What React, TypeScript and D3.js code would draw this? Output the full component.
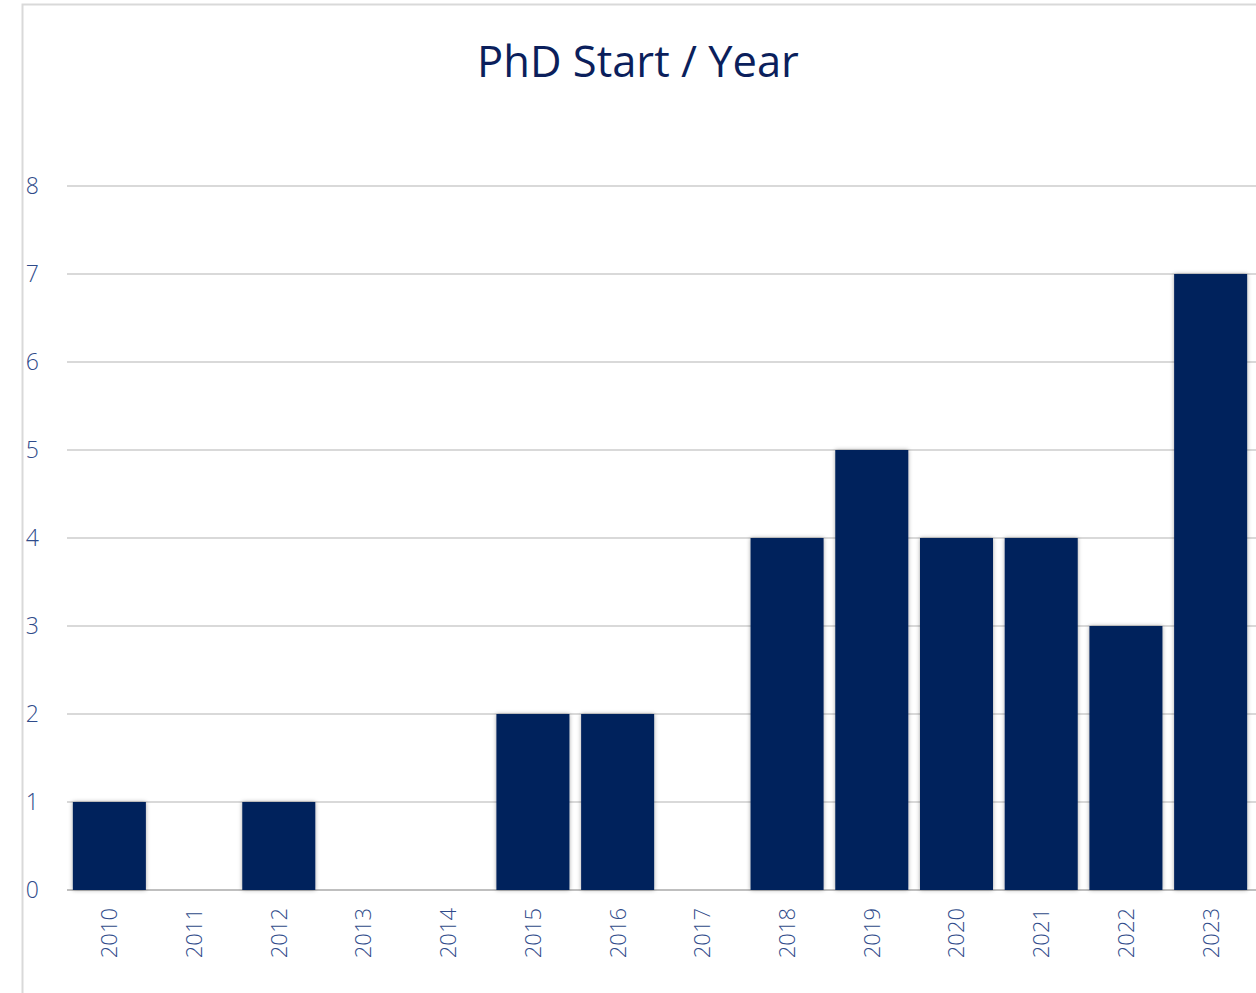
import React from "react";
import * as d3 from "d3";

const years = ["2010","2011","2012","2013","2014","2015","2016","2017","2018","2019","2020","2021","2022","2023"];
const counts = [1,0,1,0,0,2,2,0,4,5,4,4,3,7];
const yTicks = [0,1,2,3,4,5,6,7,8];

const W = 1256, H = 993;

export default function App() {
  const x = d3.scaleBand<string>().domain(years).range([67, 1253]).paddingInner(0.138).paddingOuter(0.069);
  const y = d3.scaleLinear().domain([0, 8]).range([890, 186]);
  const font = "'Open Sans', 'Noto Sans', sans-serif";
  return (
    <svg width={W} height={H} style={{ position: "absolute", left: 0, top: 0, background: "#fff" }}>
      <defs>
        <filter id="sh" x="-20%" y="-5%" width="140%" height="110%">
          <feDropShadow dx="0" dy="0" stdDeviation="2" floodColor="#000" floodOpacity="0.35" />
        </filter>
      </defs>
      <rect x={22.5} y={4.5} width={1300} height={1100} fill="#fff" stroke="#d9d9d9" strokeWidth={2} />
      <text x={638} y={77} textAnchor="middle" fontFamily={font} fontSize={43.5} fill="#0b1f5c">PhD Start / Year</text>
      {yTicks.map(t => (
        <g key={t}>
          <line x1={67} x2={1256} y1={y(t)} y2={y(t)} stroke={t === 0 ? "#bfbfbf" : "#d9d9d9"} strokeWidth={2} />
          <text x={39} y={y(t)} dy="0.36em" textAnchor="end" fontFamily={font} fontWeight={300} fontSize={23} fill="#2f4b8a">{t}</text>
        </g>
      ))}
      {years.map((yr, i) => counts[i] > 0 ? (
        <rect key={yr} x={x(yr)} y={y(counts[i])} width={x.bandwidth()} height={y(0) - y(counts[i])} fill="#00205b" filter="url(#sh)" />
      ) : null)}
      {years.map(yr => {
        const cx = (x(yr) as number) + x.bandwidth() / 2;
        return (
          <text key={yr} transform={`translate(${cx},908) rotate(-90)`} dy="0.36em" textAnchor="end" fontFamily={font} fontWeight={300} fontSize={22} fill="#2f4b8a">{yr}</text>
        );
      })}
    </svg>
  );
}
